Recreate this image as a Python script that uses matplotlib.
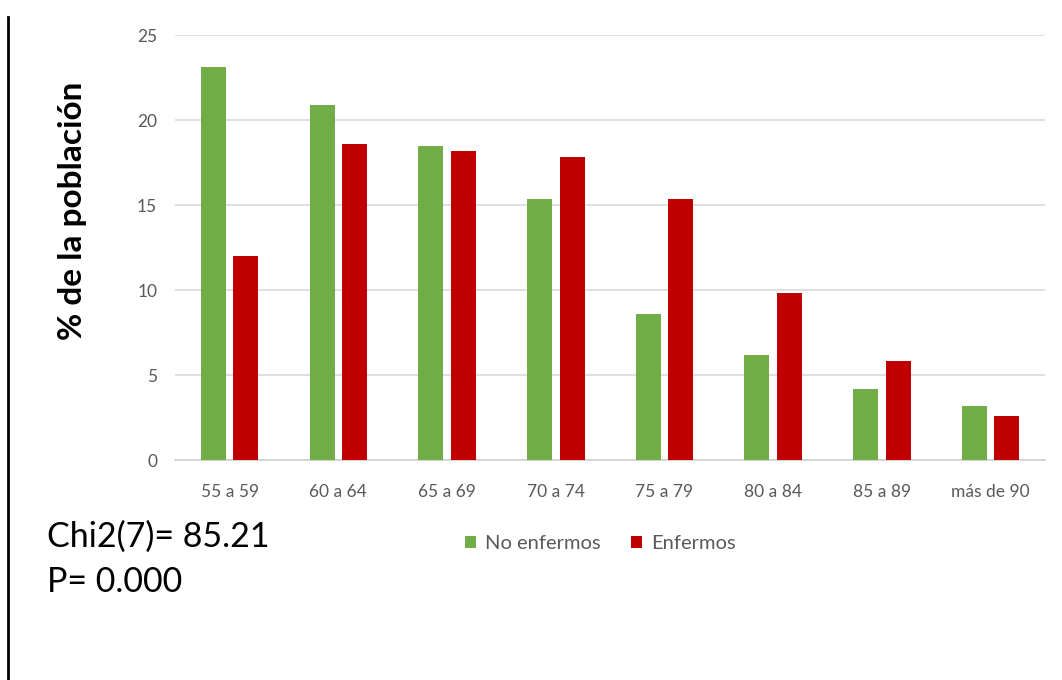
import numpy as np
import matplotlib.pyplot as plt
from matplotlib.lines import Line2D

plt.rcParams['font.family'] = ['Lato', 'DejaVu Sans']

grupos = ["55 a 59", "60 a 64", "65 a 69", "70 a 74", "75 a 79", "80 a 84", "85 a 89", "más de 90"]
no_enfermos = [23.1, 20.9, 18.5, 15.35, 8.6, 6.2, 4.2, 3.2]
enfermos = [12.0, 18.6, 18.2, 17.8, 15.35, 9.8, 5.8, 2.6]
yticks = [0, 5, 10, 15, 20, 25]

fig = plt.figure(figsize=(10.62, 6.8), dpi=100)
ax = fig.add_axes([0.165, 0.3235, 0.819, 0.625])

x = np.arange(len(grupos))
w = 0.23
ax.bar(x - 0.15, no_enfermos, w, color="#70AD47", label="No enfermos", zorder=3)
ax.bar(x + 0.15, enfermos, w, color="#C00000", label="Enfermos", zorder=3)

ax.set_xlim(-0.5, len(grupos) - 0.5)
ax.set_ylim(0, 25)
ax.set_yticks(yticks)
ax.set_xticks(x)
ax.set_xticklabels(grupos)
ax.yaxis.grid(True, color="#d9d9d9", linewidth=1.2, zorder=0)
ax.tick_params(axis="both", length=0, labelsize=12.5, labelcolor="#595959")
ax.tick_params(axis="x", pad=17)
ax.tick_params(axis="y", pad=13)
for s in ["top", "right", "left"]:
    ax.spines[s].set_visible(False)
ax.spines["bottom"].set_color("#d0d0d0")
ax.spines["bottom"].set_linewidth(1.2)

ax.set_ylabel("% de la población", fontsize=24, fontweight="bold", color="black")
ax.yaxis.set_label_coords(-0.102, 0.586)

leg = fig.legend(loc="center", bbox_to_anchor=(0.565, 0.201), ncol=2, frameon=False,
                 fontsize=14.5, handlelength=0.55, handleheight=0.55, handletextpad=0.45,
                 columnspacing=1.5)
for t in leg.get_texts():
    t.set_color("#595959")

fig.text(0.044, 0.21, "Chi2(7)= 85.21", fontsize=24.5, va="center")
fig.text(0.044, 0.144, "P= 0.000", fontsize=24.5, va="center")

# borde izquierdo
fig.add_artist(Line2D([0.008, 0.008], [0, 0.975], color="black", linewidth=2, transform=fig.transFigure))

fig.savefig("out.png", dpi=100)
